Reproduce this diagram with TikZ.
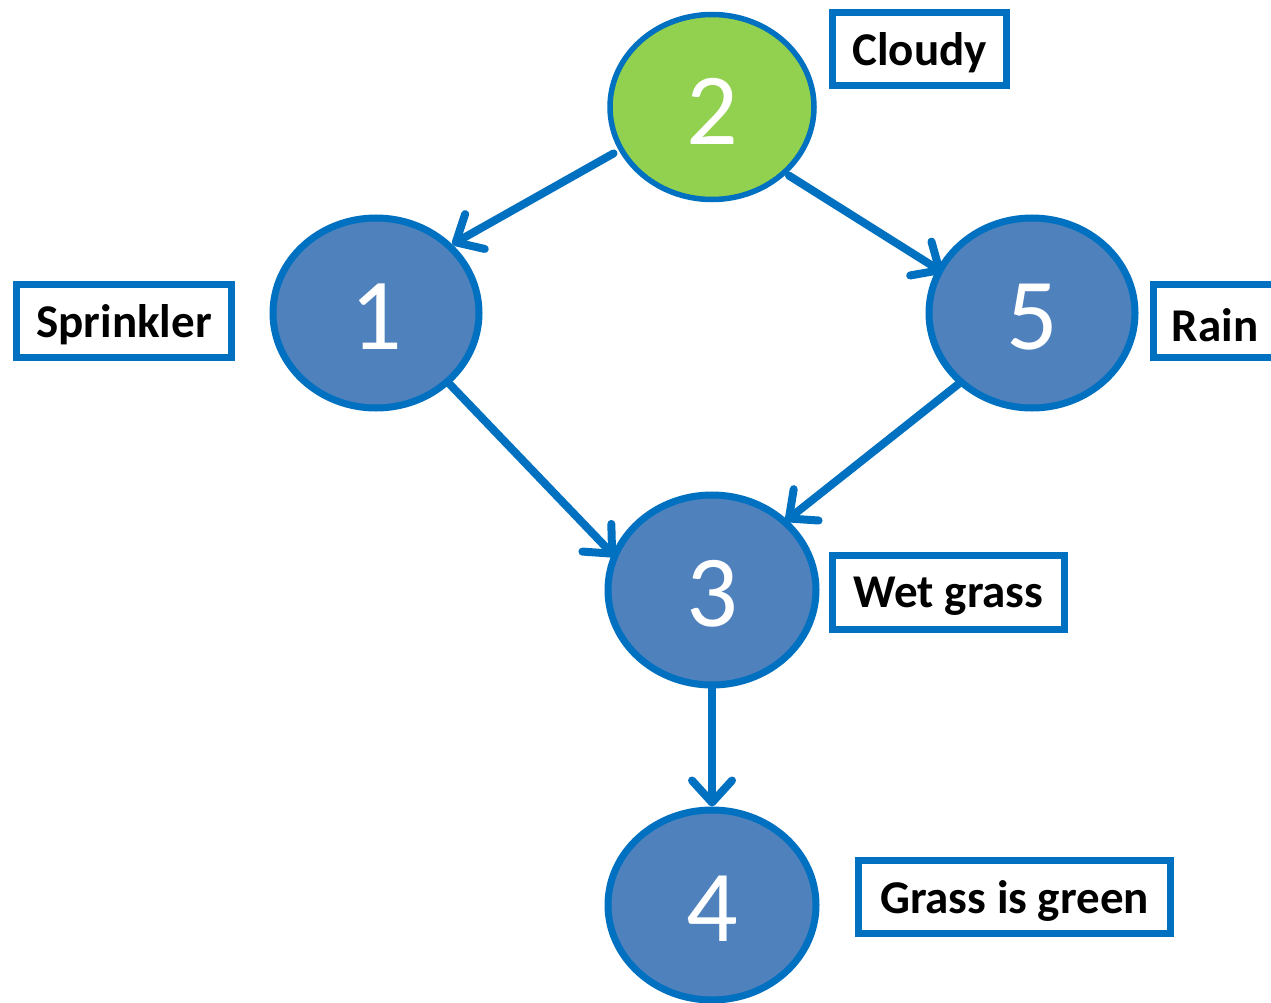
\documentclass[tikz,border=0pt]{standalone}
\usepackage{fontspec}
\setmainfont{Carlito}
\usetikzlibrary{arrows.meta,shapes.geometric}
\definecolor{bord}{HTML}{0070C0}
\definecolor{bfill}{HTML}{4F81BD}
\definecolor{gfill}{HTML}{92D050}
\newcommand{\dn}[1]{\raisebox{-4pt}[\height][\depth]{#1}}
\begin{document}
\begin{tikzpicture}[x=1pt,y=-1pt,
  var/.style={ellipse,draw=bord,line width=7pt,fill=bfill,inner sep=0pt,
    minimum width=206pt,minimum height=190pt,text=white,
    font=\fontsize{102}{110}\selectfont},
  lab/.style={rectangle,draw=bord,line width=7pt,fill=white,inner sep=0pt,
    minimum height=73pt,font=\bfseries\fontsize{47}{56}\selectfont},
  conn/.style={draw=bord,line width=8pt,line cap=round,
    -{Straight Barb[length=22pt,width=40pt,round]}}]
\useasboundingbox (0,0) rectangle (1271,1003);
\fill[white] (0,0) rectangle (1271,1003);
\node[var,fill=gfill,line width=5.5pt,minimum width=204pt,minimum height=185pt] (n2) at (712,107) {\dn{2}};
\node[var] (n1) at (376,313) {\dn{1}};
\node[var] (n5) at (1032,313) {\dn{5}};
\node[var,minimum width=208pt] (n3) at (712,590) {\dn{3}};
\node[var,minimum width=208pt] (n4) at (712,905) {\dn{4}};
\node[lab,minimum width=174pt] (lc) at (919.5,49) {\dn{Cloudy}};
\node[lab,minimum width=215pt] (ls) at (124,320.5) {\dn{Sprinkler}};
\node[lab,minimum width=123pt] (lr) at (1215,321) {\dn{Rain}};
\node[lab,minimum width=232pt,minimum height=74pt] (lw) at (948.5,592.5) {\dn{Wet grass}};
\node[lab,minimum width=312pt] (lg) at (1014.5,897) {\dn{Grass is green}};
\draw[conn,shorten <=6pt] (n2.205) -- (n1.42);
\draw[conn,shorten <=3pt,shorten >=-7pt] (n2.318) -- (n5.155);
\draw[conn,shorten >=-4pt] (n1.316) -- (n3.160);
\draw[conn,shorten >=-2pt] (n5.224) -- (n3.43);
\draw[conn] (n3.south) -- (n4.north);
\end{tikzpicture}
\end{document}
